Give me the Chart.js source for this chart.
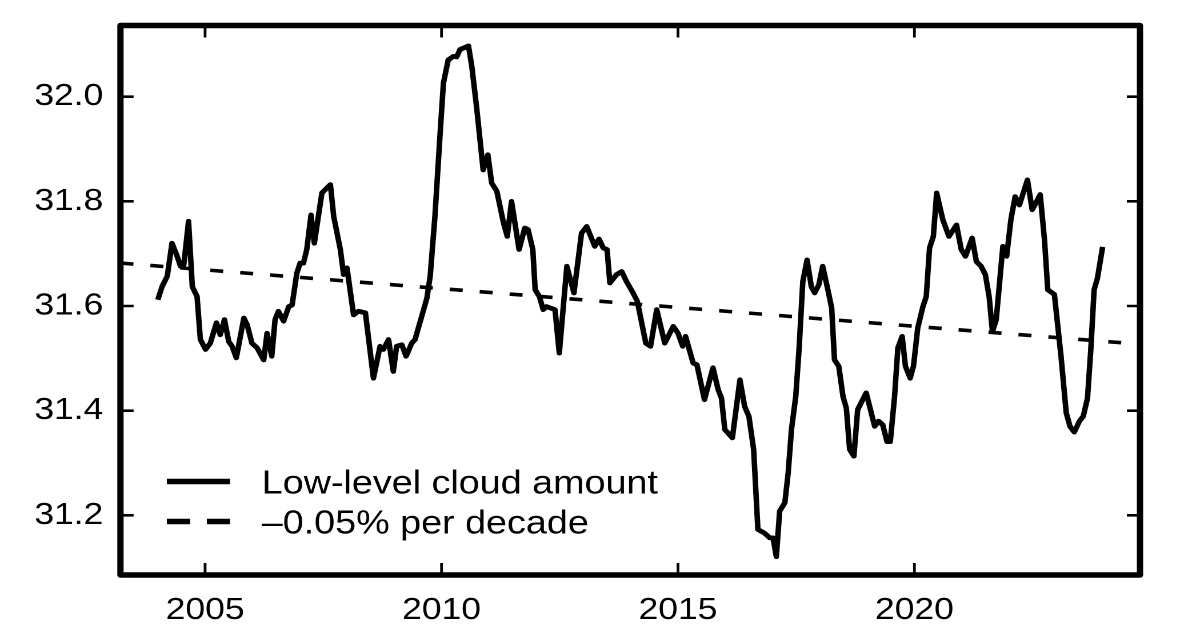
<!DOCTYPE html>
<html>
<head>
<meta charset="utf-8">
<script src="https://cdn.jsdelivr.net/npm/chart.js@4.4.0/dist/chart.umd.min.js"></script>
<style>
  html, body { margin: 0; padding: 0; background: #fff; overflow: hidden; }
  /* the reference figure is a little stretched sideways, so draw narrow and widen */
  #wrap { width: 1050px; height: 628px; transform: scale(1.142857, 1); transform-origin: 0 0; }
  canvas { display: block; }
</style>
</head>
<body>
<div id="wrap"><canvas id="chart" width="1050" height="628"></canvas></div>
<script>
const years = [
  2004.00, 2004.09, 2004.20, 2004.30, 2004.41, 2004.48, 2004.55, 2004.65, 2004.73, 2004.83,
  2004.90, 2005.01, 2005.11, 2005.24, 2005.32, 2005.41, 2005.50, 2005.57, 2005.66, 2005.82,
  2005.89, 2005.99, 2006.10, 2006.24, 2006.31, 2006.41, 2006.48, 2006.55, 2006.66, 2006.77,
  2006.84, 2006.94, 2007.01, 2007.08, 2007.15, 2007.24, 2007.31, 2007.47, 2007.65, 2007.72,
  2007.86, 2007.93, 2008.00, 2008.14, 2008.24, 2008.39, 2008.56, 2008.70, 2008.77, 2008.88,
  2008.98, 2009.05, 2009.16, 2009.25, 2009.37, 2009.44, 2009.58, 2009.69, 2009.76, 2009.86,
  2009.97, 2010.04, 2010.14, 2010.25, 2010.32, 2010.39, 2010.57, 2010.64, 2010.74, 2010.88,
  2010.98, 2011.06, 2011.17, 2011.31, 2011.39, 2011.48, 2011.64, 2011.76, 2011.83, 2011.93,
  2011.98, 2012.07, 2012.15, 2012.22, 2012.40, 2012.49, 2012.65, 2012.80, 2012.96, 2013.07,
  2013.24, 2013.33, 2013.42, 2013.50, 2013.56, 2013.70, 2013.81, 2013.91, 2014.05, 2014.14,
  2014.32, 2014.42, 2014.55, 2014.72, 2014.90, 2015.00, 2015.10, 2015.16, 2015.32, 2015.40,
  2015.56, 2015.74, 2015.85, 2015.92, 2015.99, 2016.15, 2016.31, 2016.41, 2016.50, 2016.60,
  2016.69, 2016.83, 2016.94, 2017.01, 2017.08, 2017.15, 2017.26, 2017.33, 2017.40, 2017.49,
  2017.56, 2017.64, 2017.73, 2017.82, 2017.89, 2017.98, 2018.06, 2018.17, 2018.25, 2018.31,
  2018.40, 2018.49, 2018.56, 2018.63, 2018.72, 2018.80, 2018.98, 2019.16, 2019.24, 2019.33,
  2019.42, 2019.49, 2019.58, 2019.65, 2019.74, 2019.81, 2019.91, 2019.98, 2020.07, 2020.18,
  2020.25, 2020.32, 2020.40, 2020.47, 2020.60, 2020.73, 2020.89, 2020.99, 2021.08, 2021.22,
  2021.31, 2021.41, 2021.50, 2021.58, 2021.65, 2021.73, 2021.87, 2021.95, 2022.04, 2022.13,
  2022.22, 2022.39, 2022.49, 2022.57, 2022.66, 2022.75, 2022.82, 2022.96, 2023.10, 2023.21,
  2023.29, 2023.38, 2023.49, 2023.57, 2023.66, 2023.73, 2023.80, 2023.87, 2023.98
];

const cloud = [
  31.612, 31.637, 31.657, 31.720, 31.695, 31.676, 31.679, 31.762, 31.637, 31.618,
  31.536, 31.517, 31.529, 31.568, 31.545, 31.574, 31.532, 31.523, 31.501, 31.577,
  31.564, 31.529, 31.520, 31.497, 31.548, 31.504, 31.574, 31.590, 31.571, 31.599,
  31.602, 31.663, 31.682, 31.682, 31.708, 31.774, 31.720, 31.816, 31.832, 31.771,
  31.708, 31.660, 31.673, 31.583, 31.590, 31.587, 31.462, 31.523, 31.517, 31.536,
  31.475, 31.523, 31.526, 31.504, 31.529, 31.536, 31.580, 31.615, 31.657, 31.771,
  31.930, 32.026, 32.070, 32.077, 32.076, 32.090, 32.097, 32.058, 31.981, 31.860,
  31.889, 31.835, 31.819, 31.759, 31.733, 31.800, 31.708, 31.749, 31.746, 31.708,
  31.631, 31.618, 31.593, 31.599, 31.593, 31.510, 31.676, 31.625, 31.739, 31.752,
  31.714, 31.728, 31.711, 31.708, 31.644, 31.660, 31.666, 31.647, 31.625, 31.609,
  31.529, 31.523, 31.593, 31.529, 31.561, 31.548, 31.523, 31.542, 31.491, 31.488,
  31.421, 31.482, 31.440, 31.424, 31.364, 31.348, 31.459, 31.408, 31.389, 31.326,
  31.173, 31.166, 31.157, 31.157, 31.121, 31.208, 31.224, 31.281, 31.364, 31.427,
  31.517, 31.647, 31.688, 31.637, 31.625, 31.641, 31.676, 31.631, 31.596, 31.497,
  31.485, 31.427, 31.405, 31.326, 31.313, 31.402, 31.434, 31.370, 31.380, 31.373,
  31.341, 31.341, 31.427, 31.520, 31.542, 31.485, 31.462, 31.485, 31.558, 31.599,
  31.618, 31.711, 31.733, 31.816, 31.765, 31.733, 31.755, 31.708, 31.695, 31.730,
  31.685, 31.676, 31.660, 31.618, 31.551, 31.574, 31.714, 31.695, 31.765, 31.809,
  31.793, 31.841, 31.784, 31.797, 31.813, 31.727, 31.631, 31.622, 31.504, 31.396,
  31.370, 31.359, 31.380, 31.389, 31.424, 31.517, 31.631, 31.653, 31.713
];

// linear trend, drawn across the whole time axis
const trendYears = [2003.21, 2024.77];
const trendValues = [31.682, 31.527];

const xTicks = [2005, 2010, 2015, 2020];
const yTicks = [31.2, 31.4, 31.6, 31.8, 32.0];

const seriesLabels = ['Low-level cloud amount', '\u20130.05% per decade'];

const FONT = '"Liberation Sans", Arial, Helvetica, sans-serif';

// thick box round the plot, with ticks pointing inwards on all four sides
const framePlugin = {
  id: 'frame',
  afterDatasetsDraw(chart) {
    const { ctx, chartArea: a, scales } = chart;
    ctx.save();
    ctx.strokeStyle = '#000';
    ctx.lineCap = 'butt';

    ctx.lineWidth = 2.4;
    scales.x.ticks.forEach(t => {
      const px = scales.x.getPixelForValue(t.value);
      ctx.beginPath();
      ctx.moveTo(px, a.bottom); ctx.lineTo(px, a.bottom - 12);
      ctx.moveTo(px, a.top); ctx.lineTo(px, a.top + 12);
      ctx.stroke();
    });
    ctx.lineWidth = 2.6;
    scales.y.ticks.forEach(t => {
      const py = scales.y.getPixelForValue(t.value);
      ctx.beginPath();
      ctx.moveTo(a.left, py); ctx.lineTo(a.left + 11.5, py);
      ctx.moveTo(a.right, py); ctx.lineTo(a.right - 11.5, py);
      ctx.stroke();
    });

    ctx.lineWidth = 5.5;
    ctx.lineJoin = 'round';
    ctx.strokeRect(a.left, a.top, a.right - a.left, a.bottom - a.top);
    ctx.restore();
  }
};

// legend in the lower left corner of the plot
const legendPlugin = {
  id: 'innerLegend',
  afterDraw(chart) {
    const { ctx } = chart;
    const rows = [481.5, 521.5];
    ctx.save();
    ctx.fillStyle = '#000';
    ctx.strokeStyle = '#000';
    ctx.font = '33px ' + FONT;
    ctx.textBaseline = 'alphabetic';
    ctx.textAlign = 'left';
    chart.data.datasets.forEach((ds, i) => {
      const y = rows[i];
      ctx.lineWidth = 5.5;
      ctx.setLineDash(ds.borderDash && ds.borderDash.length ? [20.4, 14.6] : []);
      ctx.beginPath();
      ctx.moveTo(146, y);
      ctx.lineTo(201.3, y);
      ctx.stroke();
      ctx.fillText(ds.label, 229, y + 12);
    });
    ctx.restore();
  }
};

new Chart(document.getElementById('chart'), {
  type: 'line',
  data: {
    datasets: [
      {
        label: seriesLabels[0],
        data: years.map((x, i) => ({ x: x, y: cloud[i] })),
        borderColor: '#000',
        borderWidth: 4.8,
        borderJoinStyle: 'round',
        pointRadius: 0,
        tension: 0,
        fill: false
      },
      {
        label: seriesLabels[1],
        data: trendYears.map((x, i) => ({ x: x, y: trendValues[i] })),
        borderColor: '#000',
        borderWidth: 3.6,
        borderDash: [11.4, 14.9],
        pointRadius: 0,
        tension: 0,
        fill: false
      }
    ]
  },
  options: {
    responsive: false,
    devicePixelRatio: 2,
    animation: false,
    layout: { padding: { left: 0, top: 25.5, right: 52.5, bottom: 0 } },
    plugins: {
      legend: { display: false },
      tooltip: { enabled: false }
    },
    scales: {
      x: {
        type: 'linear',
        min: 2003.21,
        max: 2024.77,
        afterBuildTicks: s => { s.ticks = xTicks.map(v => ({ value: v })); },
        afterFit: s => { s.height = 53; s.paddingLeft = 0; s.paddingRight = 0; },
        grid: { display: false, drawTicks: false },
        border: { display: false },
        ticks: {
          padding: 17,
          color: '#000',
          font: { family: FONT, size: 31 },
          maxRotation: 0,
          callback: v => String(v)
        }
      },
      y: {
        type: 'linear',
        min: 31.086,
        max: 32.136,
        afterBuildTicks: s => { s.ticks = yTicks.map(v => ({ value: v })); },
        afterFit: s => { s.width = 105.4; s.paddingTop = 0; s.paddingBottom = 0; },
        grid: { display: false, drawTicks: false },
        border: { display: false },
        ticks: {
          padding: 15,
          color: '#000',
          font: { family: FONT, size: 31 },
          callback: v => Number(v).toFixed(1)
        }
      }
    }
  },
  plugins: [framePlugin, legendPlugin]
});
</script>
</body>
</html>
